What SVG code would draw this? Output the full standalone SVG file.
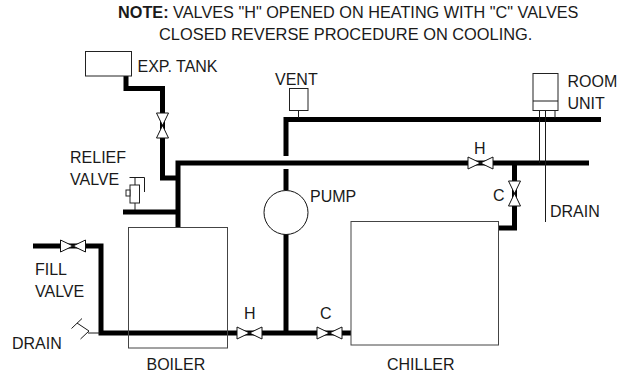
<svg xmlns="http://www.w3.org/2000/svg" width="624" height="375" viewBox="0 0 624 375">
<defs>
<style>
.pipe{fill:none;stroke:#000;stroke-width:5;stroke-linejoin:miter}
.thin{fill:none;stroke:#1a1a1a;stroke-width:1}
.box{fill:#fff;stroke:#222;stroke-width:1}
.gbox{fill:none;stroke:#444;stroke-width:1}
.valve{fill:#fff;stroke:#111;stroke-width:1;stroke-linejoin:round}
text{font-family:"Liberation Sans",Arial,sans-serif;font-size:16px;fill:#1a1a1a}
</style>
<g id="vh"><path class="valve" d="M-12.500,-6 L0,0 L-12.500,6 Z M12.500,-6 L0,0 L12.500,6 Z"/></g>
<g id="vv"><path class="valve" d="M-6,-12.500 L0,0 L6,-12.500 Z M-6,12.500 L0,0 L6,12.500 Z"/></g>
</defs>
<rect width="624" height="375" fill="#fff"/>
<g id="connectors">
<path class="pipe" d="M126,76 V88.500 H162.500 V178 H178"/>
<path class="pipe" d="M178,228 V163 H589"/>
<path class="pipe" d="M123,212 H178"/>
<path class="pipe" d="M33,246 H101 V333 H351"/>
<path class="pipe" d="M286,333 V234"/>
<path class="pipe" d="M286,190 V169"/>
<path class="pipe" d="M286,156 V119.500 H601"/>
<path class="pipe" d="M514.500,163 V228 H499"/>
<path class="thin" d="M298.500,110 V118"/>
<path class="thin" d="M135,203 V210"/>
<path class="thin" d="M88,333 H100"/>
<path class="thin" d="M539.500,110 V163 M545.500,110 V222 M555,110 V118"/>
</g>
<g id="exp-tank"><rect class="box" x="85.500" y="51.500" width="46" height="24.500"/><text x="137.500" y="71.500">EXP. TANK</text></g>
<g id="tank-valve"><use href="#vv" x="162.500" y="125.500"/></g>
<g id="relief-valve">
<rect class="box" x="130" y="185" width="9.500" height="18"/>
<rect class="box" x="126" y="190" width="4" height="6"/>
<path class="thin" d="M129.500,177.500 H144.500 V192 M135,178 V185"/>
<text x="70" y="163">RELIEF</text><text x="70" y="185">VALVE</text>
</g>
<g id="boiler"><rect class="gbox" x="128.500" y="227.500" width="99" height="120.500"/><text x="146.500" y="370">BOILER</text></g>
<g id="fill-valve"><use href="#vh" x="73" y="246"/><text x="35" y="275">FILL</text><text x="35" y="297">VALVE</text></g>
<g id="drain-left">
<path class="thin" d="M71.500,328.500 L82,318.500 M77,323 L89,331 L80.500,339"/>
<text x="12" y="348.500">DRAIN</text>
</g>
<g id="h-valve-lower"><use href="#vh" x="249.500" y="333"/><text x="244" y="319">H</text></g>
<g id="c-valve-lower"><use href="#vh" x="329.500" y="333"/><text x="320" y="319">C</text></g>
<g id="pump"><circle cx="286" cy="212.500" r="22" fill="#fff" stroke="#111" stroke-width="1"/><text x="310" y="201.500">PUMP</text></g>
<g id="vent"><rect class="box" x="289.500" y="88.500" width="18.500" height="22"/><text x="275" y="84.500">VENT</text></g>
<g id="chiller"><rect class="gbox" x="351" y="221.500" width="147.500" height="123.500"/><text x="387" y="370">CHILLER</text></g>
<g id="h-valve-upper"><use href="#vh" x="480.500" y="163"/><text x="474" y="154">H</text></g>
<g id="c-valve-upper"><use href="#vv" x="514.500" y="193.500"/><text x="493" y="200.500">C</text></g>
<g id="room-unit"><rect class="box" x="533" y="73.500" width="25" height="37"/><path class="thin" d="M533,101 H558"/><text x="567.500" y="86.500">ROOM</text><text x="567.500" y="109">UNIT</text></g>
<g id="drain-right"><text x="550" y="216.500">DRAIN</text></g>
<g id="note"><text x="118" y="18" style="font-size:16.250px"><tspan font-weight="bold">NOTE:</tspan> VALVES "H" OPENED ON HEATING WITH "C" VALVES</text><text x="159" y="40" style="font-size:16.400px">CLOSED REVERSE PROCEDURE ON COOLING.</text></g>
</svg>
